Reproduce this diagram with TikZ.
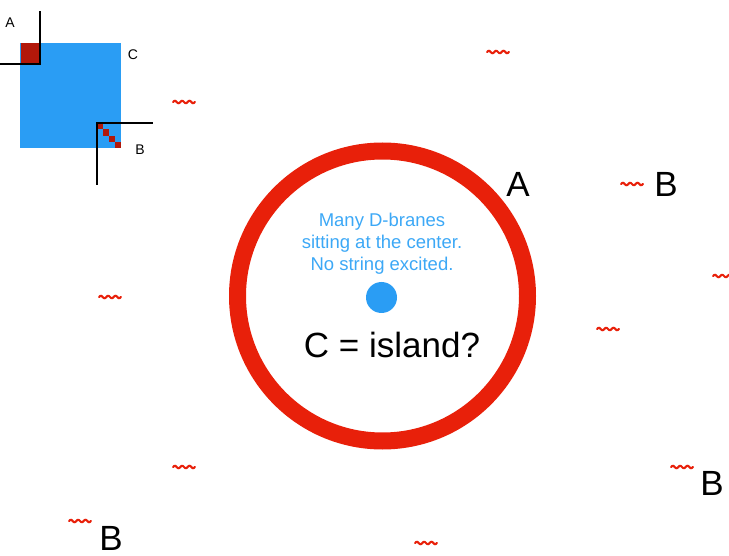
\documentclass[tikz,border=0pt]{standalone}
\usepackage{fontspec}
\setmainfont{Liberation Sans}
\usetikzlibrary{calc}
\definecolor{ringred}{RGB}{232,32,10}
\definecolor{braneblue}{RGB}{42,157,244}
\definecolor{noteblue}{RGB}{60,168,246}
\definecolor{cornerred}{RGB}{178,24,10}

\tikzset{
  big/.style={font=\fontsize{35}{40}\selectfont, inner sep=0pt, anchor=base},
  small/.style={font=\fontsize{14}{16}\selectfont, inner sep=0pt, anchor=base},
  corner/.style={line width=1.8pt, line cap=rect},
  wiggle/.pic={
    \draw[ringred, line width=2.1pt, line cap=round]
      plot[domain=-11:11, samples=45, smooth] (\x, {1.2*sin(\x*360/7.3)});
  }
}

\begin{document}
\begin{tikzpicture}[x=1pt, y=-1pt]
			\useasboundingbox (0,0) rectangle (729,556);
			% small picture in the corner
			\coordinate (Atop) at (40,12);
			\coordinate (Ac) at (40,64);
			\coordinate (Aleft) at (0,64);
			\coordinate (Bc) at (97,123);
			\coordinate (Bright) at (152,123);
			\coordinate (Bbot) at (97,184);
			\fill[braneblue] (20,43) rectangle (121,148);
			\fill[cornerred] (21,43) rectangle (Ac);
			\foreach \i in {0,...,3}
				\fill[cornerred] ($(Bc)+(6*\i,6.3*\i)$) rectangle +(6,6.3);
			\draw[corner] (Atop) -- (Ac) -- (Aleft);
			\draw[corner] (Bright) -- (Bc) -- (Bbot);
			\node[small] (a) at (10,28) {A};
			\node[small] (c) at (133,60) {C};
			\node[small] (b) at (140,155) {B};
			% the ring
			\coordinate (O) at (382.5,296);
			\draw[ringred, line width=17pt] (O) circle[radius=145pt];
			\node[circle, fill=braneblue, minimum size=31pt, inner sep=0pt] (dot) at (381.5,297.5) {};
			\node[align=center, text=noteblue, font=\fontsize{18.5}{22}\selectfont] (note) at (382,244)
				{Many D-branes\\sitting at the center.\\No string excited.};
			\node[big] (island) at (392,357) {C = island?};
			\node[big] (A) at (518,197) {A};
			\node[big] (B1) at (666,197) {B};
			\node[big] (B2) at (712,495) {B};
			\node[big] (B3) at (111,550) {B};
			% open strings
			\foreach \p in {(498,52),(184,102),(632,184),(724,276),(110,297),
				(608,329),(184,467),(80,521),(682,467),(426,543)}
				\pic at \p {wiggle};
		\end{tikzpicture}
\end{document}
